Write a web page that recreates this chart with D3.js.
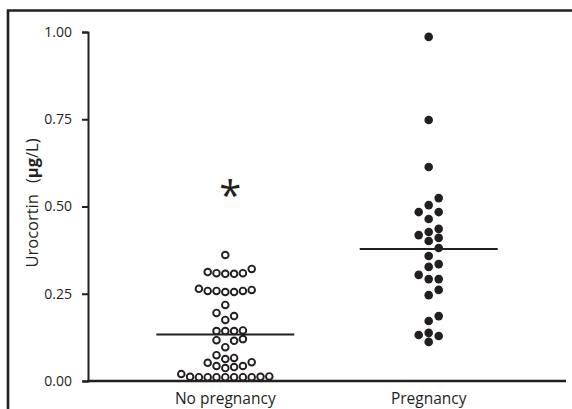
<!DOCTYPE html>
<html><head><meta charset="utf-8">
<script src="https://cdn.jsdelivr.net/npm/d3@7"></script>
<style>
body{margin:0;background:#fff}
svg{display:block}
text{font-family:"Open Sans",sans-serif;fill:#231f20}
</style>
</head><body>
<svg id="c" width="572" height="409"></svg>
<script>
// ---- data ----
const categories = ["No pregnancy", "Pregnancy"];
const noPregnancy = [
  0.361,
  0.321, 0.312, 0.309, 0.309, 0.307, 0.307,
  0.264, 0.261, 0.258, 0.258, 0.258, 0.255, 0.255,
  0.218,
  0.195, 0.186, 0.175,
  0.145, 0.143, 0.143, 0.143,
  0.120, 0.117, 0.115, 0.097,
  0.074,
  0.066, 0.063, 0.054, 0.052, 0.043, 0.043, 0.040,
  0.037,
  0.020, 0.013, 0.012, 0.012, 0.011, 0.011, 0.011, 0.011, 0.011, 0.011, 0.011
];
const pregnancy = [
  0.986, 0.748, 0.613,
  0.524, 0.504, 0.484, 0.484, 0.464, 0.436, 0.427, 0.418, 0.410, 0.401,
  0.381, 0.358, 0.335, 0.327, 0.304, 0.292, 0.292, 0.261, 0.246,
  0.186, 0.172, 0.138, 0.132, 0.129, 0.112
];
const centralLine = [0.133, 0.378];
const yTicks = [0, 0.25, 0.5, 0.75, 1.0];
const yLabelMain = "Urocortin";
const yLabelUnit = ["(", "µg", "/L)"];
const significance = { category: "No pregnancy", value: 0.556, mark: "*" };

// ---- chart ----
const ink = "#231f20";
const svg = d3.select("#c");

// outer frame
svg.append("path")
  .attr("d", "M8,409 V10.5 H572")
  .attr("fill", "none").attr("stroke", ink).attr("stroke-width", 2.6);

const y = d3.scaleLinear().domain([0, 1]).range([381, 32]);
const x = d3.scalePoint().domain(categories).range([88, 566]).padding(0.675);

// y axis
const yAxis = svg.append("g").attr("transform", "translate(88,0)")
  .call(d3.axisLeft(y).tickValues(yTicks).tickFormat(d3.format(".2f")).tickSize(6).tickSizeOuter(6).tickPadding(10));
yAxis.select(".domain").attr("stroke", ink).attr("stroke-width", 2);
yAxis.selectAll(".tick line").attr("stroke", ink).attr("stroke-width", 2);
yAxis.selectAll(".tick text").attr("font-size", 14).attr("font-family", "Open Sans").attr("fill", ink);

// x axis line
svg.append("line").attr("x1", 87).attr("x2", 566).attr("y1", y(0)).attr("y2", y(0))
  .attr("stroke", ink).attr("stroke-width", 2.4);

// x labels
svg.append("g").selectAll("text").data(categories).join("text")
  .attr("x", d => x(d)).attr("y", 404).attr("text-anchor", "middle")
  .attr("font-size", 15.5).text(d => d);

// y label
const yl = svg.append("text")
  .attr("transform", "translate(37.5,203) rotate(-90)")
  .attr("text-anchor", "middle").attr("font-size", 16.5);
yl.append("tspan").text(yLabelMain);
yl.append("tspan").attr("dx", 11).text(yLabelUnit[0]);
yl.append("tspan").attr("font-weight", "bold").text(yLabelUnit[1]);
yl.append("tspan").text(yLabelUnit[2]);

// beeswarm layout
function swarm(values, cx, step, minD) {
  const placed = [];
  const pts = values.map(v => ({ v, y: y(v) })).sort((a, b) => a.v - b.v);
  for (const p of pts) {
    for (let k = 0; k < 50; k++) {
      const cands = k === 0 ? [0] : [k, -k];
      let found = null;
      for (const c of cands) {
        const xx = cx + c * step;
        if (placed.every(q => Math.hypot(q.x - xx, q.y - p.y) >= minD)) { found = xx; break; }
      }
      if (found !== null) { p.x = found; break; }
    }
    placed.push(p);
  }
  return placed;
}

const openPts = swarm(noPregnancy, x("No pregnancy"), 8.8, 8.4);
const fillPts = swarm(pregnancy, x("Pregnancy"), 10, 9);

svg.append("g").selectAll("circle").data(openPts).join("circle")
  .attr("cx", d => d.x).attr("cy", d => d.y).attr("r", 3.3)
  .attr("fill", "#fff").attr("stroke", ink).attr("stroke-width", 1.9);

svg.append("g").selectAll("circle").data(fillPts).join("circle")
  .attr("cx", d => d.x).attr("cy", d => d.y).attr("r", 4.3)
  .attr("fill", ink);

// central lines
svg.append("g").selectAll("line").data(categories).join("line")
  .attr("x1", d => x(d) - 69).attr("x2", d => x(d) + 69)
  .attr("y1", (d, i) => y(centralLine[i])).attr("y2", (d, i) => y(centralLine[i]))
  .attr("stroke", ink).attr("stroke-width", 2);

// significance mark (glyph sits high in the em box, so offset by font metrics)
const starSize = 40;
svg.append("text").attr("font-size", starSize).attr("font-family", "DejaVu Sans")
  .attr("text-anchor", "middle")
  .attr("x", x(significance.category) + 5)
  .attr("y", y(significance.value) + starSize * 0.58)
  .text(significance.mark);
</script>
</body></html>
